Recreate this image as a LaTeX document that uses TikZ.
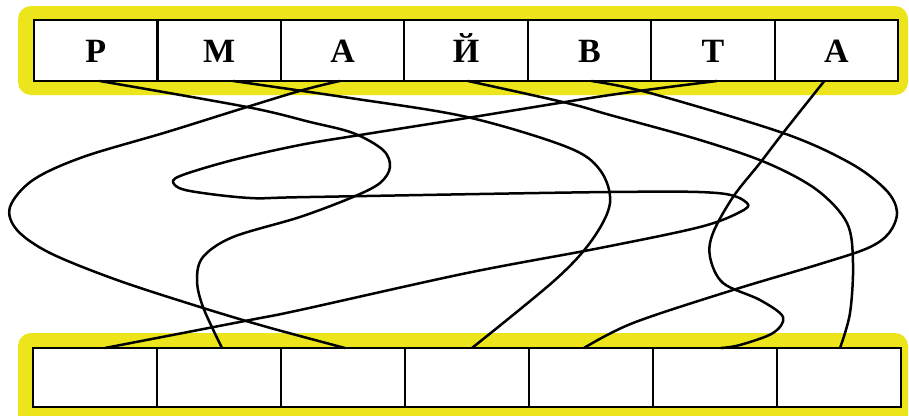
\documentclass[tikz,border=0pt]{standalone}
\usepackage{fontspec}
\setmainfont{Liberation Serif}
\definecolor{hlyellow}{RGB}{236,229,28}
\begin{document}
\begin{tikzpicture}[x=1pt,y=-1pt,
  cell/.style={draw=black, line width=2.2pt, minimum width=123.4pt,
    minimum height=61pt, inner sep=0pt, outer sep=0pt, text height=23.5pt, text depth=0pt,
    font=\fontsize{34}{34}\selectfont\bfseries},
  bcell/.style={cell, minimum width=124pt, minimum height=59pt},
  band/.style={fill=hlyellow, rounded corners=13pt},
  wire/.style={line width=2.5pt, line cap=round, line join=round}]
\useasboundingbox (0,0) rectangle (909,415);
\clip (0,0) rectangle (909,415);
\fill[band] (18,6) rectangle (908,95);
\fill[band] (18,333) rectangle (908,440);
\fill[white] (34,20) rectangle (898,81);
\fill[white] (33,348) rectangle (901,407);
% top cells
\node[cell] (t1) at (95.7,50.5) {Р};
\node[cell] (t2) at (219.1,50.5) {М};
\node[cell] (t3) at (342.6,50.5) {А};
\node[cell] (t4) at (466.0,50.5) {Й};
\node[cell] (t5) at (589.4,50.5) {В};
\node[cell] (t6) at (712.9,50.5) {Т};
\node[cell] (t7) at (836.3,50.5) {А};
% bottom cells
\node[bcell] (b1) at (95,377.5) {};
\node[bcell] (b2) at (219,377.5) {};
\node[bcell] (b3) at (343,377.5) {};
\node[bcell] (b4) at (467,377.5) {};
\node[bcell] (b5) at (591,377.5) {};
\node[bcell] (b6) at (715,377.5) {};
\node[bcell] (b7) at (839,377.5) {};
% anchor points
\coordinate (s1) at ([xshift=4pt]t1.south);
\coordinate (s2) at ([xshift=14pt]t2.south);
\coordinate (s3) at ([xshift=-3pt]t3.south);
\coordinate (s4) at ([xshift=2pt]t4.south);
\coordinate (s5) at ([xshift=2pt]t5.south);
\coordinate (s6) at ([xshift=4pt]t6.south);
\coordinate (s7) at ([xshift=-12pt]t7.south);
\coordinate (e1) at ([xshift=10pt]b1.north);
\coordinate (e2) at ([xshift=3pt]b2.north);
\coordinate (e3) at ([xshift=2pt]b3.north);
\coordinate (e4) at ([xshift=5pt]b4.north);
\coordinate (e5) at ([xshift=-7pt]b5.north);
\coordinate (e6) at ([xshift=6pt]b6.north);
\coordinate (e7) at ([xshift=1pt]b7.north);
% Р -> 2
\draw[wire] plot[smooth, tension=0.55] coordinates {(s1) (247,107) (310,122) (353,133) (383,150) (390,167) (380,183) (353,197) (300,217) (233,237) (203,257) (197,280) (203,307) (e2)};
% М -> 4
\draw[wire] plot[smooth, tension=0.55] coordinates {(s2) (350,98) (467,117) (567,147) (600,170) (610,203) (592,240) (555,280) (e4)};
% А -> 3
\draw[wire] plot[smooth, tension=0.55] coordinates {(s3) (303,90) (247,107) (167,132) (83,157) (33,180) (10,207) (17,230) (50,253) (117,280) (200,307) (267,327) (e3)};
% Й -> 7
\draw[wire] plot[smooth, tension=0.55] coordinates {(s4) (567,103) (610,115) (700,140) (767,163) (817,190) (847,223) (853,263) (850,313) (e7)};
% В -> 5
\draw[wire] plot[smooth, tension=0.55] coordinates {(s5) (650,93) (783,133) (850,163) (886,190) (897,212) (889,233) (868,248) (820,264) (733,290) (633,323) (e5)};
% Т -> 1
\draw[wire] plot[smooth, tension=0.55] coordinates {(s6) (610,95) (467,118) (360,135) (300,145) (233,160) (180,176) (174,184) (190,191) (250,198) (310,197) (610,192) (717,193) (747,203) (740,212) (700,227) (600,248) (467,273) (300,310) (250,320) (e1)};
% А -> 6
\draw[wire] plot[smooth, tension=0.55] coordinates {(s7) (783,133) (760,163) (733,197) (713,233) (710,257) (723,283) (760,300) (783,317) (773,333) (740,345) (e6)};
\end{tikzpicture}
\end{document}
